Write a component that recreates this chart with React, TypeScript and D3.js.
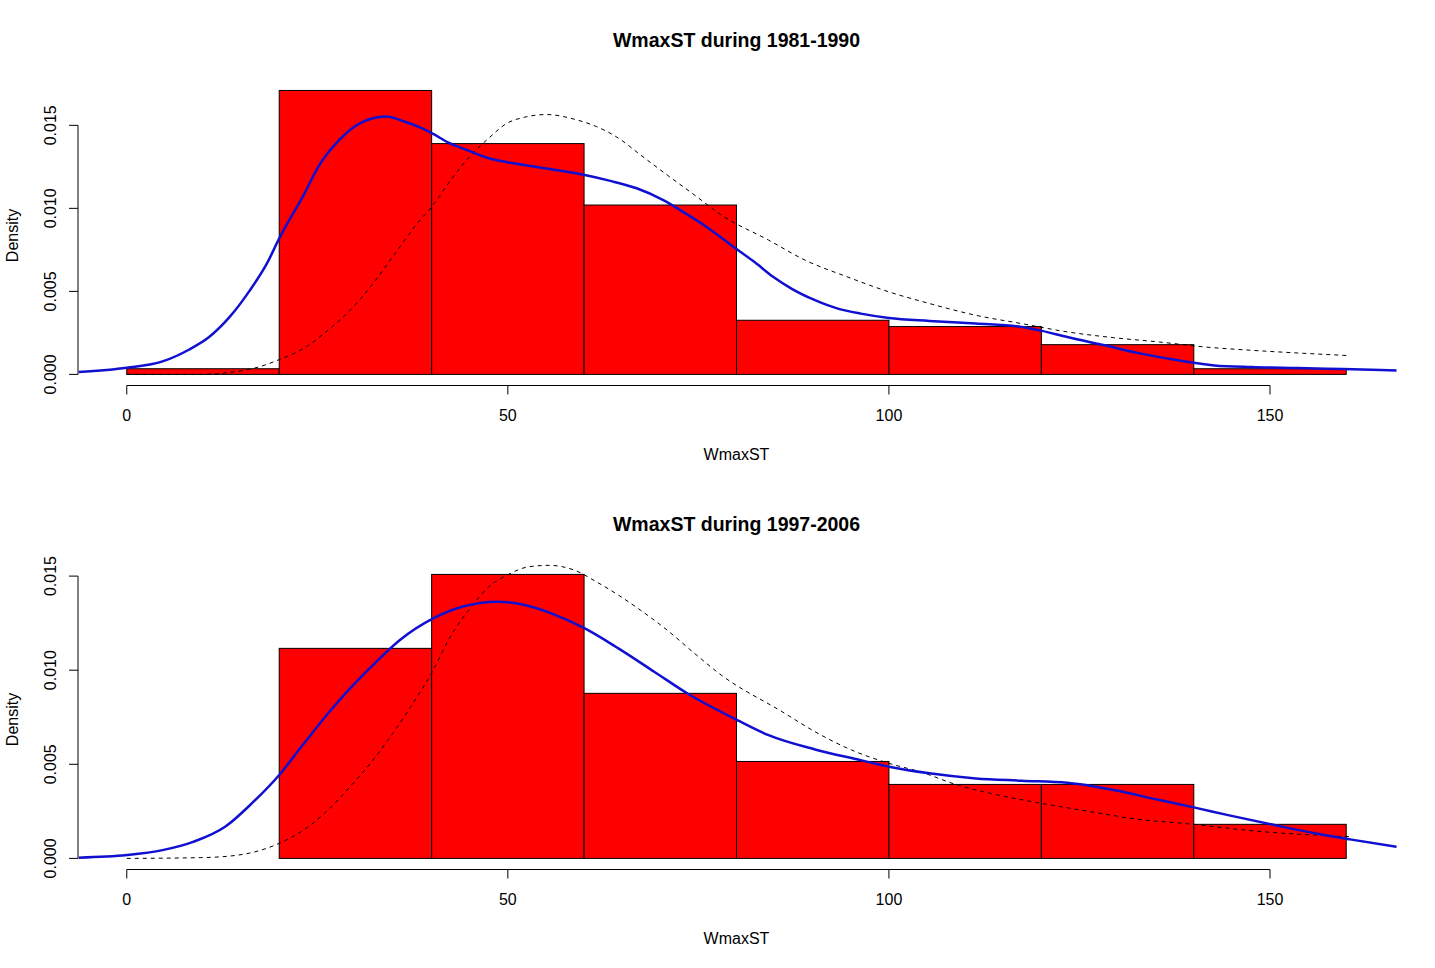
import React from 'react';
import * as d3 from 'd3';

// Histogram breaks (shared by both periods)
const breaks = [0, 20, 40, 60, 80, 100, 120, 140, 160];

// Density of each bin
const density1981 = [0.00034, 0.0171, 0.0139, 0.0102, 0.00326, 0.00288, 0.00179, 0.00034];
const density1997 = [0, 0.01116, 0.01509, 0.00877, 0.00515, 0.00393, 0.00393, 0.00181];

// Kernel density (blue)
const kdeX1981 = [-6.3, 0, 4.7, 8.2, 10.8, 13.5, 16.1, 18.5, 20, 23.2, 25.2, 27.9, 29.9, 32.3, 34.0, 36.4, 38.7, 40.2, 42.2, 44.6, 47.5, 49.9, 53.4, 56.9, 60.1, 63.3, 66.9, 70.4, 73.3, 75.7, 80, 82.4, 84.8, 87.2, 90.3, 93.3, 96.3, 100, 105.3, 111.4, 117.4, 120.1, 123.4, 128.3, 133.1, 137.9, 142.7, 147.6, 153.6, 159.6, 166.6];
const kdeY1981 = [0.00014, 0.0004, 0.00078, 0.0015, 0.00225, 0.00346, 0.00503, 0.00678, 0.00819, 0.0108, 0.01256, 0.01412, 0.01493, 0.01543, 0.01553, 0.01523, 0.01483, 0.01448, 0.01396, 0.01352, 0.01302, 0.01278, 0.01252, 0.01227, 0.01201, 0.01167, 0.01121, 0.0105, 0.0097, 0.009, 0.00755, 0.00675, 0.00588, 0.00517, 0.00447, 0.00396, 0.00366, 0.0034, 0.00322, 0.00306, 0.00286, 0.00262, 0.00225, 0.00175, 0.00125, 0.00085, 0.00054, 0.00044, 0.00038, 0.00032, 0.00024];

const kdeX1997 = [-6.3, 0, 4.7, 8.8, 12.9, 16.4, 20, 22.9, 26.4, 29.3, 32.3, 35.8, 40.2, 44.0, 48.7, 52.2, 55.7, 60.1, 64.5, 69.2, 73.9, 80.1, 84.2, 90.3, 96.3, 100, 105.3, 111.4, 117.4, 123.4, 129.5, 135.5, 140.0, 144.5, 150.6, 156.6, 160.5, 166.6];
const kdeY1997 = [0.00004, 0.00018, 0.00044, 0.00089, 0.00168, 0.00292, 0.00443, 0.00593, 0.0077, 0.00903, 0.01027, 0.01159, 0.01275, 0.01337, 0.01364, 0.01346, 0.01302, 0.01222, 0.01116, 0.00992, 0.00868, 0.00735, 0.00655, 0.00579, 0.00522, 0.00487, 0.00452, 0.00425, 0.00413, 0.00402, 0.00363, 0.0031, 0.00271, 0.0023, 0.00177, 0.00128, 0.00101, 0.00062];

// Fitted distribution (black dashed)
const fitX1981 = [0, 9.4, 16.4, 20, 23.5, 26.4, 29.3, 32.3, 35.2, 38.1, 40.2, 42.2, 45.2, 47.5, 49.9, 52.2, 55.1, 58.7, 61.6, 64.5, 67.4, 70.9, 74.5, 78.0, 84.2, 89.0, 94.5, 100, 105.3, 111.4, 117.4, 123.4, 129.5, 135.5, 141.5, 147.6, 153.6, 160.5];
const fitY1981 = [0, 0, 0.00034, 0.00089, 0.00165, 0.00266, 0.00386, 0.00547, 0.00728, 0.00909, 0.0102, 0.01151, 0.01322, 0.01423, 0.01513, 0.01549, 0.01565, 0.01537, 0.01493, 0.01423, 0.01322, 0.01201, 0.0108, 0.0096, 0.00809, 0.00688, 0.00588, 0.00497, 0.00427, 0.00356, 0.00306, 0.00256, 0.00221, 0.00195, 0.00165, 0.00145, 0.00129, 0.00113];

const fitX1997 = [0, 9.7, 14.7, 20, 23.5, 26.4, 29.3, 32.3, 35.2, 38.1, 40.2, 42.2, 45.2, 47.5, 49.9, 52.8, 55.4, 58.7, 61.6, 64.5, 67.4, 70.9, 74.5, 78.0, 86.0, 90.3, 95.1, 100, 104.1, 109.0, 114.4, 120.1, 126.5, 131.9, 140.0, 147.6, 153.6, 160.5];
const fitY1997 = [0, 0.00004, 0.00018, 0.0008, 0.00159, 0.00257, 0.00381, 0.00522, 0.00682, 0.00859, 0.01, 0.0116, 0.01337, 0.01443, 0.01505, 0.0155, 0.01557, 0.01532, 0.0147, 0.01399, 0.01319, 0.01213, 0.01089, 0.00974, 0.00779, 0.00673, 0.00576, 0.00505, 0.0046, 0.0039, 0.00336, 0.00292, 0.00248, 0.00212, 0.00181, 0.00147, 0.00129, 0.00115];

const xTicks = [0, 50, 100, 150];
const yTicks = [0, 0.005, 0.01, 0.015];
const yTickLabels = ['0.000', '0.005', '0.010', '0.015'];

const WIDTH = 1435;
const HEIGHT = 968;
const FONT = '"Liberation Sans", Arial, sans-serif';

interface PanelProps {
  title: string;
  density: number[];
  kdeX: number[];
  kdeY: number[];
  fitX: number[];
  fitY: number[];
  yLim: number;
  offsetY: number;
}

const Panel: React.FC<PanelProps> = ({ title, density, kdeX, kdeY, fitX, fitY, yLim, offsetY }) => {
  // plot region, R style (4% padding on both axes)
  const left = 78;
  const right = 1395;
  const top = offsetY + 85.5;
  const bottom = offsetY + 385.5;
  const xPad = (right - left) * 0.04 / 1.08;
  const yPad = (bottom - top) * 0.04 / 1.08;

  const x = d3.scaleLinear().domain([0, 160]).range([left + xPad, right - xPad]);
  const y = d3.scaleLinear().domain([0, yLim]).range([bottom - yPad, top + yPad]);

  const line = d3.line<[number, number]>()
    .x(d => x(d[0]))
    .y(d => y(d[1]))
    .curve(d3.curveMonotoneX);

  const kde = kdeX.map((v, i) => [v, kdeY[i]] as [number, number]);
  const fit = fitX.map((v, i) => [v, fitY[i]] as [number, number]);
  const midX = (left + right) / 2;

  return (
    <g>
      <text x={midX} y={offsetY + 47} textAnchor="middle" fontSize={19.5} fontWeight="bold" fontFamily={FONT}>
        {title}
      </text>

      {/* bars */}
      {density.map((d, i) => (
        <rect
          key={i}
          x={x(breaks[i])}
          y={y(d)}
          width={x(breaks[i + 1]) - x(breaks[i])}
          height={y(0) - y(d)}
          fill="#ff0000"
          stroke="#000"
          strokeWidth={1}
        />
      ))}

      {/* fitted distribution */}
      <path d={line(fit) || ''} fill="none" stroke="#000" strokeWidth={1} strokeDasharray="4,4" />

      {/* kernel density */}
      <path d={line(kde) || ''} fill="none" stroke="#1010d0" strokeWidth={2.5} />

      {/* x axis */}
      <line x1={x(xTicks[0])} x2={x(xTicks[xTicks.length - 1])} y1={bottom} y2={bottom} stroke="#000" />
      {xTicks.map(t => (
        <g key={t}>
          <line x1={x(t)} x2={x(t)} y1={bottom} y2={bottom + 9} stroke="#000" />
          <text x={x(t)} y={bottom + 35} textAnchor="middle" fontSize={16} fontFamily={FONT}>{t}</text>
        </g>
      ))}
      <text x={midX} y={offsetY + 460} textAnchor="middle" fontSize={16} fontFamily={FONT}>WmaxST</text>

      {/* y axis */}
      <line x1={left} x2={left} y1={y(yTicks[0])} y2={y(yTicks[yTicks.length - 1])} stroke="#000" />
      {yTicks.map((t, i) => (
        <g key={t}>
          <line x1={left - 9} x2={left} y1={y(t)} y2={y(t)} stroke="#000" />
          <text
            transform={`translate(${left - 22},${y(t)}) rotate(-90)`}
            textAnchor="middle"
            fontSize={16}
            fontFamily={FONT}
          >
            {yTickLabels[i]}
          </text>
        </g>
      ))}
      <text
        transform={`translate(18,${(top + bottom) / 2}) rotate(-90)`}
        textAnchor="middle"
        fontSize={16}
        fontFamily={FONT}
      >
        Density
      </text>
    </g>
  );
};

const App: React.FC = () => (
  <svg
    width={WIDTH}
    height={HEIGHT}
    style={{ position: 'absolute', left: 0, top: 0, background: '#fff' }}
  >
    <rect width={WIDTH} height={HEIGHT} fill="#fff" />
    <Panel
      title="WmaxST during 1981-1990"
      density={density1981}
      kdeX={kdeX1981}
      kdeY={kdeY1981}
      fitX={fitX1981}
      fitY={fitY1981}
      yLim={0.01673}
      offsetY={0}
    />
    <Panel
      title="WmaxST during 1997-2006"
      density={density1997}
      kdeX={kdeX1997}
      kdeY={kdeY1997}
      fitX={fitX1997}
      fitY={fitY1997}
      yLim={0.01476}
      offsetY={484}
    />
  </svg>
);

export default App;
